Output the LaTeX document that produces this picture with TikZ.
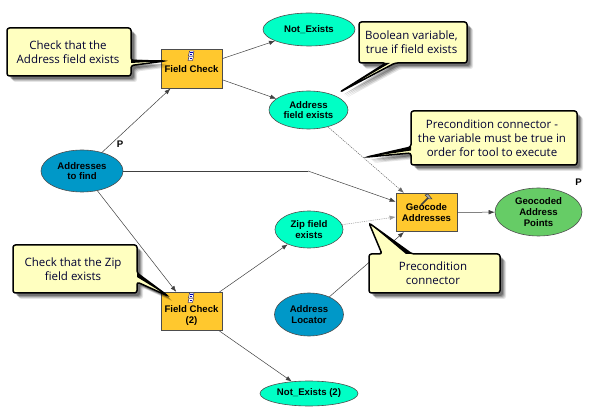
\documentclass[tikz,border=0pt]{standalone}
\usepackage{fontspec}
\setmainfont{Liberation Sans}
\newfontfamily\notefont{Open Sans}
\usetikzlibrary{arrows.meta,shapes.geometric}
\definecolor{toolfill}{HTML}{FFC82E}
\definecolor{derived}{HTML}{00FFC5}
\definecolor{inputblue}{HTML}{0098C8}
\definecolor{outgreen}{HTML}{66CC66}
\definecolor{notefill}{HTML}{FFFFC0}
\definecolor{edge}{HTML}{4D4D4D}
\tikzset{
  x=1pt,y=-1pt,
  toolbox/.style={draw=edge,fill=toolfill,line width=.7pt,minimum width=61pt,minimum height=38.5pt,inner sep=0pt,align=center,font=\fontsize{9.6}{10.6}\selectfont\bfseries},
  dataell/.style={ellipse,draw=edge,line width=.6pt,inner sep=0pt,align=center,font=\fontsize{9.6}{10.6}\selectfont\bfseries},
  conn/.style={draw=black!75,line width=.5pt,-{Latex[length=6pt,width=4.5pt]}},
  precond/.style={conn,draw=black!60,dash pattern=on 1.2pt off 1pt},
  notebody/.style={draw=black,fill=notefill,line width=1.5pt,rounded corners=2.5pt},
  notetext/.style={inner sep=0pt,align=center,text=black!80!blue,font=\notefont\fontsize{11.5}{14}\selectfont},
  plabel/.style={inner sep=0pt,font=\fontsize{9.6}{10}\selectfont\bfseries},
}
% soft shadow + outlined callout body
\newcommand{\notepath}[1]{%
  \foreach \d/\o in {6/.10,5/.14,4/.20,3/.26}{%
    \fill[black,opacity=\o,rounded corners=2.5pt,shift={(\d,\d)}] #1 -- cycle;}%
  \path[notebody] #1 -- cycle;}
\newcommand{\scripticon}[2]{%
  \begin{scope}[shift={(#1,#2)}]
    \fill[white,draw=black!60!blue,line width=.4pt] (-1.5,-5) -- (3,-5) -- (2,0) -- (-2.5,0) -- cycle;
    \draw[blue!70!black,line width=.8pt] (-1,-3.5) -- (1.5,-3.5) (-1.5,-1.5) -- (1,-1.5);
    \fill[white,draw=black!60!blue,line width=.4pt] (-2,0.5) -- (2.5,0.5) -- (1.5,4.5) -- (-3,4.5) -- cycle;
    \draw[blue!70!black,line width=.8pt] (-1.5,2.5) -- (1,2.5);
  \end{scope}}
\begin{document}
\begin{tikzpicture}
\useasboundingbox (0,0) rectangle (594,419);
\fill[white] (0,0) rectangle (594,419);

% nodes
\node[toolbox] (fc) at (191.5,69) {};
\node[inner sep=0pt,font=\fontsize{9.6}{10.6}\selectfont\bfseries] (fclabel) at (191.5,69.5) {Field Check};
\node[toolbox] (fc2) at (191.5,311.5) {\rule{0pt}{4pt}\\Field Check\\(2)};
\node[toolbox] (gc) at (426.5,212.5) {Geocode\\Addresses};
\node[dataell,fill=derived,minimum width=92pt,minimum height=33pt] (ne) at (309,29.5) {Not\_Exists};
\node[dataell,fill=derived,minimum width=79pt,minimum height=38pt] (afe) at (308.5,110) {Address\\field exists};
\node[dataell,fill=inputblue,minimum width=82pt,minimum height=42pt] (atf) at (82,171) {Addresses\\to find};
\node[dataell,fill=derived,minimum width=68pt,minimum height=37pt] (zip) at (309,229.5) {Zip field\\exists};
\node[dataell,fill=inputblue,minimum width=69pt,minimum height=43pt] (loc) at (309,314.5) {Address\\Locator};
\node[dataell,fill=derived,minimum width=98pt,minimum height=25pt] (ne2) at (309,393.5) {Not\_Exists (2)};
\node[dataell,fill=outgreen,minimum width=87pt,minimum height=48pt] (out) at (538.5,212) {Geocoded\\Address\\Points};

% connectors
\coordinate (bend) at (308,171);
\draw[conn] (fc) -- (ne);
\draw[conn] (fc) -- (afe);
\draw[conn] (atf) -- (fc);
\draw[conn] (atf) -- (fc2);
\draw[conn,arrows=-] (atf.east) -- (bend);
\draw[conn] (bend) -- (gc);
\draw[conn] (fc2) -- (zip);
\draw[conn] (fc2) -- (ne2);
\draw[precond] (afe) -- (gc);
\draw[precond,draw=black!40] (zip) -- (gc);
\draw[conn] (loc) -- (gc);
\draw[conn] (gc) -- (out);

\node[plabel] (p1) at (120,144) {P};
\node[plabel] (p2) at (578.5,182.5) {P};

% tool icons
\scripticon{191}{56}
\scripticon{191}{298}
\begin{scope}[shift={(426,200)}]
  \draw[black!75,line width=1.5pt] (-5,5) -- (2,-2);
  \draw[black!75,fill=black!35,line width=.5pt] (-1,-5) -- (2,-6) -- (6,-1) -- (3,-1) -- cycle;
\end{scope}

% callouts
\notepath{(7,28) -- (131,28) -- (131,60.5) -- (165,61) -- (131,65.5) -- (131,76) -- (7,76)}
\fill[black] (165,61) -- (131,59.5) -- (131,63) -- cycle;
\node[notetext] (n1) at (68,52) {Check that the\\Address field exists};

\notepath{(359,22) -- (467,22) -- (467,63) -- (395,63) -- (340,92) -- (386,63) -- (359,63)}
\fill[black] (340,92) -- (386,63) -- (390,63) -- cycle;
\node[notetext] (n2) at (411.5,42.5) {Boolean variable,\\true if field exists};

\notepath{(411,111) -- (577,111) -- (577,165) -- (411,165) -- (411,153) -- (367,157) -- (411,147)}
\fill[black] (367,157) -- (411,147) -- (411,150.5) -- cycle;
\node[notetext] (n3) at (492,138.5) {Precondition connector -\\the variable must be true in\\order for tool to execute};

\notepath{(13,245) -- (137,245) -- (137,273) -- (168,296) -- (137,282) -- (137,293) -- (13,293)}
\fill[black] (168,296) -- (137,273) -- (137,277) -- cycle;
\node[notetext] (n4) at (73,269.5) {Check that the Zip\\field exists};

\notepath{(369,254) -- (382,254) -- (369,223) -- (412,254) -- (500,254) -- (500,293) -- (369,293)}
\fill[black] (369,223) -- (412,254) -- (406,254) -- cycle;
\node[notetext] (n5) at (433,273.5) {Precondition\\connector};
\end{tikzpicture}
\end{document}
